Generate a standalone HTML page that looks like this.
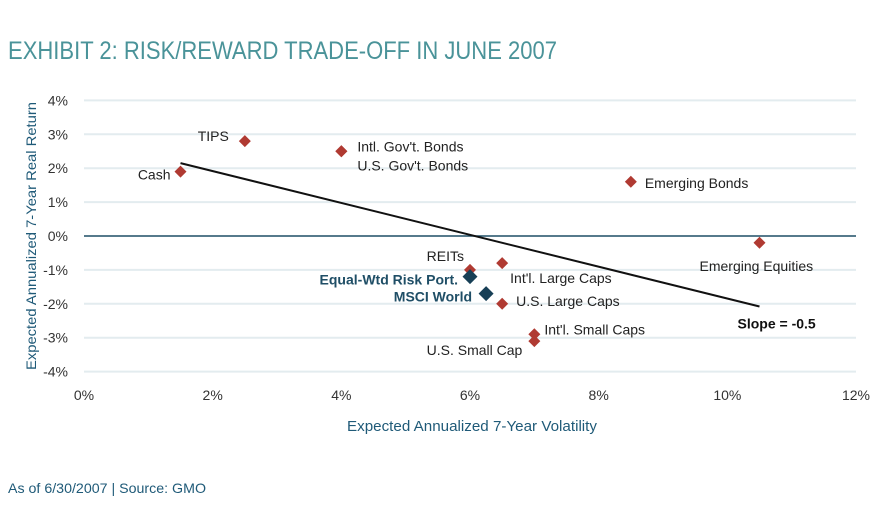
<!DOCTYPE html>
<html><head><meta charset="utf-8"><style>
body{margin:0;background:#fff;}
svg{display:block;font-family:"Liberation Sans",sans-serif;}
</style></head><body>
<svg id="chart" width="883" height="531" viewBox="0 0 883 531">
<text x="8" y="59" font-size="25" fill="#4a9399" textLength="549" lengthAdjust="spacingAndGlyphs">EXHIBIT 2: RISK/REWARD TRADE-OFF IN JUNE 2007</text>
<g id="grid"></g><g id="axes"></g><g id="marks"></g>
<text transform="translate(36,236) rotate(-90)" text-anchor="middle" font-size="14" fill="#1f5a78" textLength="268" lengthAdjust="spacingAndGlyphs">Expected Annualized 7-Year Real Return</text>
<text x="472" y="431" text-anchor="middle" font-size="15" fill="#1f5a78" textLength="250" lengthAdjust="spacingAndGlyphs">Expected Annualized 7-Year Volatility</text>
<text x="8" y="493" font-size="14" fill="#1f5a78" textLength="198" lengthAdjust="spacingAndGlyphs">As of 6/30/2007 | Source: GMO</text>
</svg>
<script>
const names=["Cash","TIPS","Intl. Gov't. Bonds","U.S. Gov't. Bonds","Emerging Bonds","Emerging Equities","REITs","Int'l. Large Caps","Equal-Wtd Risk Port.","MSCI World","U.S. Large Caps","Int'l. Small Caps","U.S. Small Cap"];
const vol=[1.5,2.5,4,4,8.5,10.5,6,6.5,6,6.25,6.5,7,7];
const ret=[1.9,2.8,2.5,2.5,1.6,-0.2,-1,-0.8,-1.2,-1.7,-2,-2.9,-3.1];
const highlight=[0,0,0,0,0,0,0,0,1,1,0,0,0];
const xTicks=[0,2,4,6,8,10,12];
const yTicks=[4,3,2,1,0,-1,-2,-3,-4];
const trendX=[1.5,10.5];
const trendY=[2.15,-2.08];
const slopeLabel="Slope = -0.5";
const NS="http://www.w3.org/2000/svg";
const X=v=>84+v*(856-84)/12;
const Y=v=>236-v*33.9;
function mk(t,a,p){const e=document.createElementNS(NS,t);for(const k in a)e.setAttribute(k,a[k]);p.appendChild(e);return e;}
const grid=document.getElementById('grid'),axes=document.getElementById('axes'),marks=document.getElementById('marks');
yTicks.forEach(t=>{
 if(t!==0){const l=mk('line',{x1:84,x2:856,y1:Y(t),y2:Y(t),stroke:'#e3ecef','stroke-width':2},grid);
 
 }
 const tx=mk('text',{x:68,y:Y(t)+5,'text-anchor':'end','font-size':14,fill:'#333'},axes);tx.textContent=t+'%';
 
 
});
xTicks.forEach(t=>{
 const tx=mk('text',{x:X(t),y:400,'text-anchor':'middle','font-size':14,fill:'#333'},axes);tx.textContent=t+'%';
 
 
});
const z=mk('line',{x1:84,x2:856,y1:Y(0),y2:Y(0),stroke:'#1f4e66','stroke-width':1.5},axes);


const tl=mk('line',{x1:X(trendX[0]),y1:Y(trendY[0]),x2:X(trendX[1]),y2:Y(trendY[1]),stroke:'#111','stroke-width':2},marks);


const sl=mk('text',{x:X(trendX[1])-22,y:Y(trendY[1])+22,'font-size':14,'font-weight':'bold',fill:'#111'},marks);sl.textContent=slopeLabel;


// label placement: [dx, dy, anchor]
const lp=[[-10,8,'end'],[-16,0,'end'],[16,0,'start'],[16,19,'start'],[14,6,'start'],[-60,28,'start'],[-6,-9,'end'],[8,20,'start'],[-12,8,'end'],[-14,8,'end'],[14,2,'start'],[10,0,'start'],[-12,14,'end']];
vol.forEach((v,i)=>{
 const cx=X(v),cy=Y(ret[i]),s=highlight[i]?7.5:6;
 const d=mk('polygon',{points:`${cx},${cy-s} ${cx+s},${cy} ${cx},${cy+s} ${cx-s},${cy}`,fill:highlight[i]?'#173f56':'#b03a32'},marks);
 
 
 const p=lp[i];
 const t=mk('text',{x:cx+p[0],y:cy+p[1],'text-anchor':p[2],'font-size':14,fill:highlight[i]?'#1f4e66':'#222','font-weight':highlight[i]?'bold':'normal'},marks);
 t.textContent=names[i];
 
 
});
</script>
</body></html>
